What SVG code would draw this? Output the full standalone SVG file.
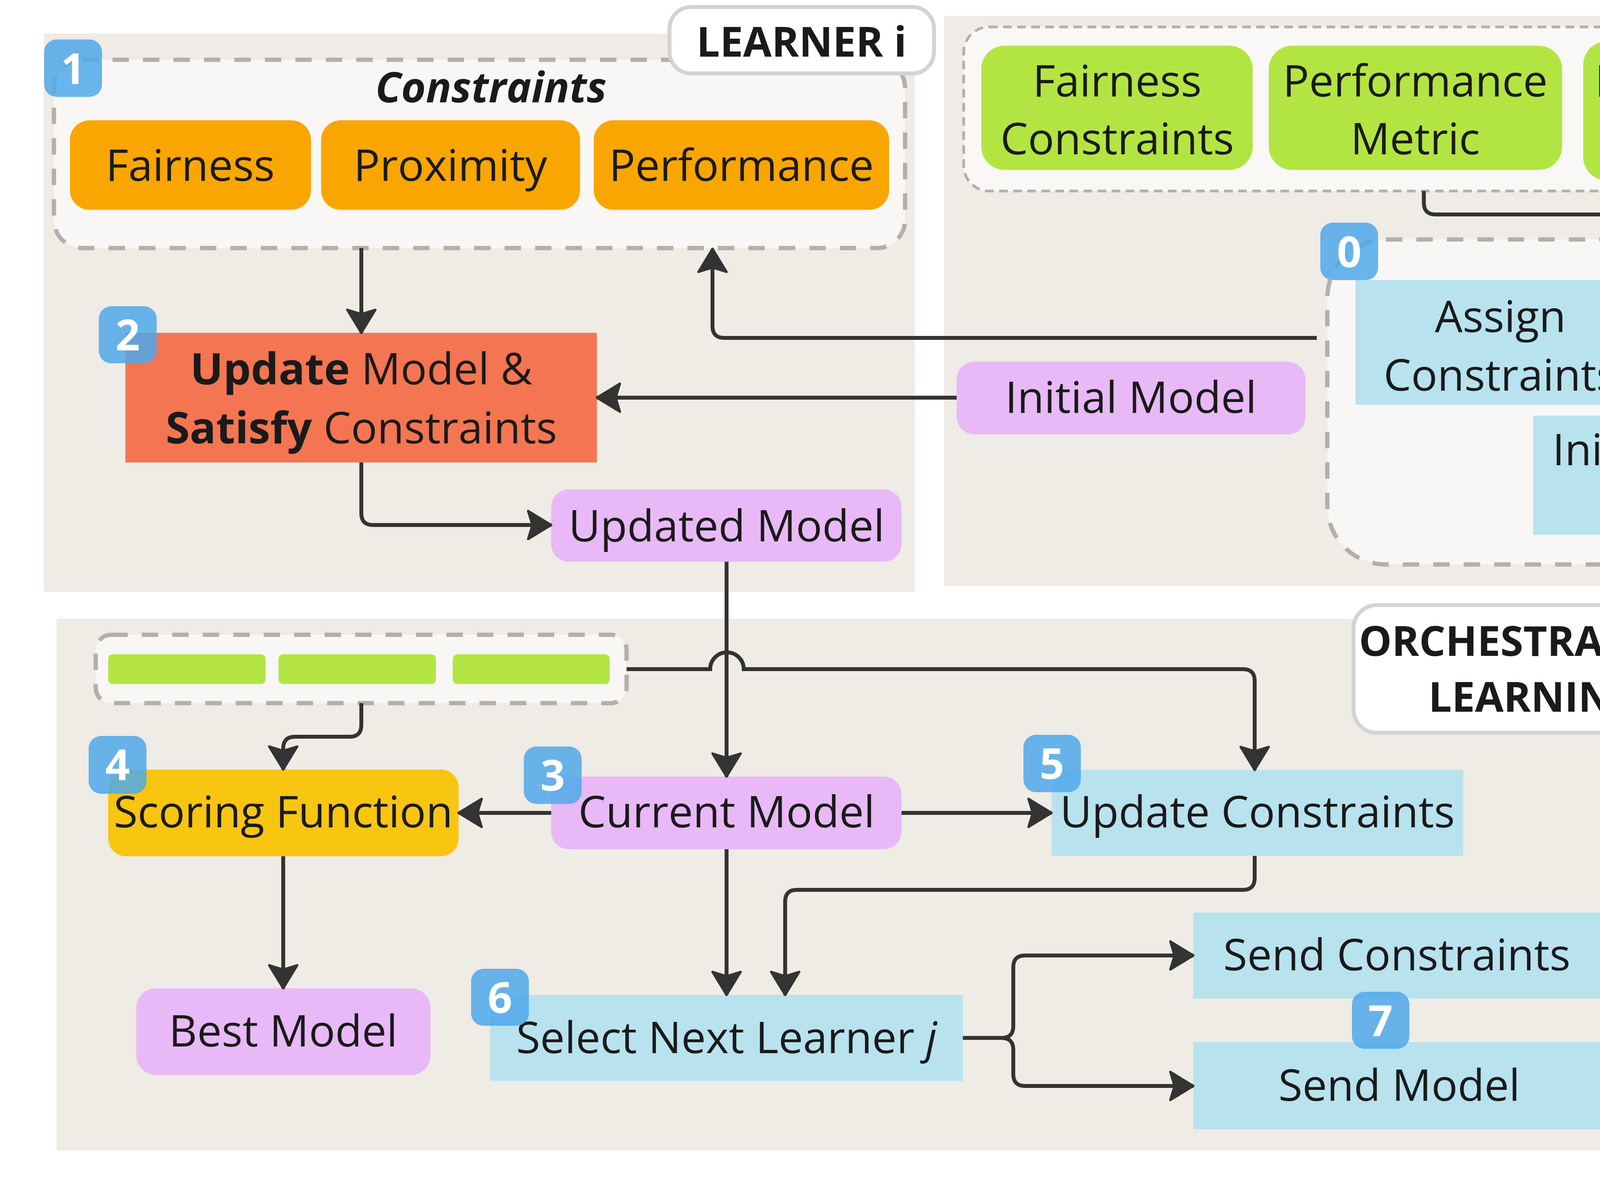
<svg xmlns="http://www.w3.org/2000/svg" width="5917" height="3031" viewBox="0 0 5917 3031">
<defs>
<marker id="ah" markerUnits="userSpaceOnUse" markerWidth="80" markerHeight="90" refX="68" refY="45" orient="auto" overflow="visible">
<path d="M68,45 L9,9 L20,45 L9,81 Z" fill="#333333" stroke="#333333" stroke-width="6" stroke-linejoin="round"/>
</marker>
<style>
.panel{fill:#EFEBE5}
.grp{fill:#F8F7F5;stroke:#B3AFAB;stroke-width:11;stroke-dasharray:42 36}
.grp2{fill:#F9F8F6;stroke:#B3AFAB;stroke-width:7;stroke-dasharray:22 14}
.lbl rect{fill:#FFFFFF;stroke:#D3D3D3;stroke-width:10}
.lt{font-family:"Open Sans","Noto Sans",sans-serif;font-weight:700;font-size:106px;fill:#1A1A1A;text-anchor:middle}
.t{font-family:"Open Sans","Noto Sans",sans-serif;font-size:112px;fill:#1A1A1A;text-anchor:middle}
.ti{font-family:"Open Sans","Noto Sans",sans-serif;font-size:108px;font-weight:700;font-style:italic;fill:#1A1A1A;text-anchor:middle}
.or{fill:#F9A602}
.gr{fill:#B3E542}
.co{fill:#F47551}
.li{fill:#E8B9F6}
.bl{fill:#B8E2EE}
.ye{fill:#F8C511}
.badge rect{fill:#4FA8EA;fill-opacity:0.85}
.bt{font-family:"Open Sans","Noto Sans",sans-serif;font-weight:700;font-size:110px;fill:#FFFFFF;text-anchor:middle}
.conn path{fill:none;stroke:#333333;stroke-width:10}
.arr{marker-end:url(#ah)}
</style>
</defs>
<rect x="0" y="0" width="5917" height="3031" fill="#FFFFFF"/>

<g id="panels">
<rect id="panel-learner-i" class="panel" x="112" y="86" width="2230" height="1429"/>
<rect id="panel-setup" class="panel" x="2417" y="41" width="3433" height="1459"/>
<rect id="panel-learning" class="panel" x="145" y="1584" width="4194" height="1361"/>
<rect id="panel-learner-j" class="panel" x="4549" y="1584" width="1305" height="1361"/>
</g>

<g id="containers">
<rect id="grp-constraints" class="grp" x="138" y="153" width="2179" height="482" rx="72"/>
<rect id="grp-setup-inputs" class="grp2" x="2467" y="69" width="2355" height="420" rx="65"/>
<rect id="grp-setup" class="grp" x="3398" y="613" width="2025" height="832" rx="150"/>
<rect id="grp-learning-inputs" class="grp" x="245" y="1625" width="1359" height="175" rx="40"/>
<rect id="grp-learner-j" class="grp" x="4631" y="1871" width="1171" height="153" rx="35"/>
</g>

<text class="ti" x="1257" y="262">Constraints</text>

<g id="node-fairness"><rect class="or" x="179" y="308" width="617" height="229" rx="50"/><text class="t" x="487" y="463">Fairness</text></g>
<g id="node-proximity"><rect class="or" x="822" y="308" width="663" height="229" rx="50"/><text class="t" x="1153" y="463">Proximity</text></g>
<g id="node-performance"><rect class="or" x="1520" y="308" width="756" height="229" rx="50"/><text class="t" x="1898" y="463">Performance</text></g>

<g id="node-update-model"><rect class="co" x="321" y="852" width="1207" height="332"/><text class="t" x="925" y="984"><tspan font-weight="700">Update</tspan> Model &amp;</text><text class="t" x="925" y="1135"><tspan font-weight="700">Satisfy</tspan> Constraints</text></g>
<g id="node-updated-model"><rect class="li" x="1411" y="1253" width="897" height="185" rx="45"/><text class="t" x="1860" y="1386">Updated Model</text></g>

<g id="node-fairness-constraints"><rect class="gr" x="2512" y="117" width="695" height="318" rx="60"/><text class="t" x="2860" y="247">Fairness</text><text class="t" x="2860" y="395">Constraints</text></g>
<g id="node-performance-metric"><rect class="gr" x="3248" y="117" width="751" height="318" rx="60"/><text class="t" x="3623" y="247">Performance</text><text class="t" x="3623" y="395">Metric</text></g>
<g id="node-performance-budget"><rect class="gr" x="4053" y="106" width="738" height="356" rx="60"/><text class="t" x="4422" y="247">Performance</text><text class="t" x="4422" y="395">Budget</text></g>

<g id="node-assign"><rect class="bl" x="3470" y="717" width="742" height="319"/><text class="t" x="3841" y="850">Assign</text><text class="t" x="3841" y="1000">Constraints</text></g>
<g id="node-partition"><rect class="bl" x="4416" y="724" width="936" height="306"/><text class="t" x="4884" y="850">Partition Fairness</text><text class="t" x="4884" y="1000">Constraints</text></g>
<g id="node-init-perf"><rect class="bl" x="3925" y="1064" width="974" height="305"/><text class="t" x="4412" y="1191">Init Performance</text><text class="t" x="4412" y="1340">Constraints</text></g>
<g id="node-initial-model"><rect class="li" x="2449" y="926" width="893" height="186" rx="45"/><text class="t" x="2895" y="1057">Initial Model</text></g>

<g id="node-learning-inputs">
<rect class="gr" x="277" y="1675" width="403" height="76" rx="12"/>
<rect class="gr" x="713" y="1675" width="403" height="76" rx="12"/>
<rect class="gr" x="1159" y="1675" width="402" height="76" rx="12"/>
</g>
<g id="node-scoring"><rect class="ye" x="277" y="1970" width="897" height="222" rx="45"/><text class="t" x="725" y="2118">Scoring Function</text></g>
<g id="node-current-model"><rect class="li" x="1411" y="1988" width="897" height="186" rx="45"/><text class="t" x="1860" y="2118">Current Model</text></g>
<g id="node-update-constraints"><rect class="bl" x="2692" y="1971" width="1054" height="220"/><text class="t" x="3219" y="2118">Update Constraints</text></g>
<g id="node-best-model"><rect class="li" x="349" y="2530" width="753" height="222" rx="50"/><text class="t" x="725" y="2679">Best Model</text></g>
<g id="node-select-next"><rect class="bl" x="1255" y="2547" width="1210" height="220"/><text class="t" x="1860" y="2696">Select Next Learner <tspan font-style="italic">j</tspan></text></g>
<g id="node-send-constraints"><rect class="bl" x="3055" y="2336" width="1043" height="220"/><text class="t" x="3576" y="2484">Send Constraints</text></g>
<g id="node-send-model"><rect class="bl" x="3055" y="2668" width="1054" height="223"/><text class="t" x="3582" y="2818">Send Model</text></g>

<g id="node-learner-j-constraints">
<rect class="or" x="4655" y="1914" width="348" height="67" rx="12"/>
<rect class="or" x="5032" y="1914" width="348" height="67" rx="12"/>
<rect class="or" x="5418" y="1914" width="349" height="67" rx="12"/>
</g>
<g id="node-learner-j-update"><rect class="co" x="4750" y="2186" width="897" height="117"/></g>
<g id="node-learner-j-model"><rect class="li" x="4874" y="2523" width="653" height="93" rx="15"/></g>

<g id="connectors" class="conn">
<path class="arr" d="M925 635 V852"/>
<path class="arr" d="M925 1184 V1314 Q925 1344 955 1344 H1411"/>
<path class="arr" d="M3371 865 H1854 Q1824 865 1824 835 V637"/>
<path class="arr" d="M2449 1018 H1528"/>
<path class="arr" d="M4416 875 H4212"/>
<path class="arr" d="M3645 489 V519 Q3645 549 3675 549 H5544 Q5574 549 5574 579 V1065 Q5574 1095 5544 1095 H5426"/>
<path class="arr" d="M1860 1438 V1988"/>
<path class="arr" d="M1604 1713 H1818 A43 43 0 0 1 1904 1713 H3182 Q3212 1713 3212 1743 V1971"/>
<path class="arr" d="M925 1800 V1856 Q925 1886 895 1886 H755 Q725 1886 725 1916 V1970"/>
<path class="arr" d="M1411 2081 H1174"/>
<path class="arr" d="M2308 2081 H2692"/>
<path class="arr" d="M725 2192 V2530"/>
<path class="arr" d="M1860 2174 V2547"/>
<path class="arr" d="M3212 2191 V2248 Q3212 2278 3182 2278 H2040 Q2010 2278 2010 2308 V2547"/>
<path class="arr" d="M2465 2657 H2564 Q2594 2657 2594 2627 V2476 Q2594 2446 2624 2446 H3055"/>
<path class="arr" d="M2465 2657 H2564 Q2594 2657 2594 2687 V2750 Q2594 2780 2624 2780 H3055"/>
<path class="arr" d="M4098 2446 H4344 Q4374 2446 4374 2416 V1977 Q4374 1947 4404 1947 H4655"/>
<path class="arr" d="M4109 2779 H4400 Q4430 2779 4430 2749 V2274 Q4430 2244 4460 2244 H4750"/>
<path class="arr" d="M5199 2303 V2523"/>
</g>

<g id="labels" class="lbl">
<g id="label-learner-i"><rect x="1714" y="18" width="677" height="170" rx="55"/><text class="lt" x="2052" y="145">LEARNER i</text></g>
<g id="label-setup"><rect x="4901" y="18" width="976" height="328" rx="60"/><text class="lt" x="5389" y="148">ORCHESTRATOR -</text><text class="lt" x="5389" y="295">SETUP</text></g>
<g id="label-learning"><rect x="3465" y="1549" width="927" height="327" rx="60"/><text class="lt" x="3930" y="1679">ORCHESTRATOR -</text><text class="lt" x="3930" y="1822">LEARNING</text></g>
<g id="label-learner-j"><rect x="5226" y="1557" width="669" height="170" rx="55"/><text class="lt" x="5560" y="1681">LEARNER j</text></g>
</g>

<g id="badges" class="badge">
<g id="badge-0"><rect x="3380" y="570" width="148" height="147" rx="32"/><text class="bt" x="3454" y="684">0</text></g>
<g id="badge-1"><rect x="113" y="101" width="148" height="147" rx="32"/><text class="bt" x="187" y="215">1</text></g>
<g id="badge-2"><rect x="253" y="784" width="148" height="146" rx="32"/><text class="bt" x="327" y="897">2</text></g>
<g id="badge-3"><rect x="1341" y="1911" width="148" height="147" rx="32"/><text class="bt" x="1415" y="2024">3</text></g>
<g id="badge-4"><rect x="227" y="1884" width="148" height="148" rx="32"/><text class="bt" x="301" y="1997">4</text></g>
<g id="badge-5"><rect x="2620" y="1881" width="147" height="147" rx="32"/><text class="bt" x="2693" y="1994">5</text></g>
<g id="badge-6"><rect x="1206" y="2480" width="148" height="146" rx="32"/><text class="bt" x="1280" y="2593">6</text></g>
<g id="badge-7"><rect x="3461" y="2539" width="147" height="146" rx="32"/><text class="bt" x="3534" y="2652">7</text></g>
<g id="badge-8"><rect x="4577" y="1745" width="149" height="146" rx="32"/><text class="bt" x="4651" y="1858">8</text></g>
<g id="badge-9"><rect x="4690" y="2076" width="149" height="148" rx="32"/><text class="bt" x="4764" y="2189">9</text></g>
</g>
</svg>
